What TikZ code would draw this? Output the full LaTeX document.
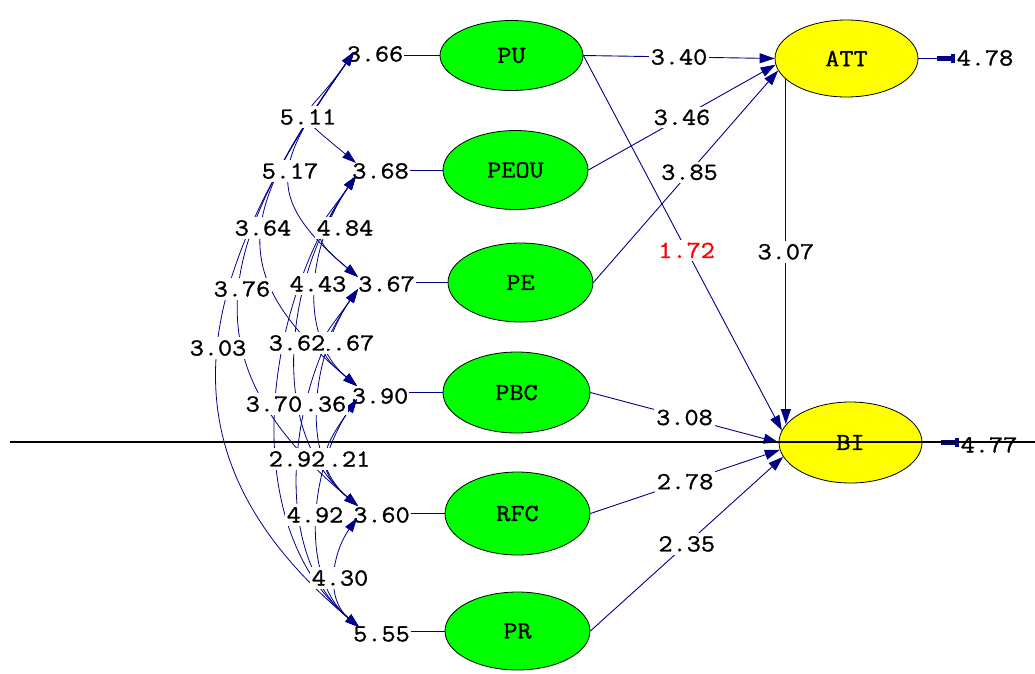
\documentclass[tikz,border=0pt]{standalone}
\usepackage{fontspec}
\usetikzlibrary{arrows.meta,shapes.geometric}
\newfontfamily\lisfont{Latin Modern Mono}[FakeStretch=1.12,FakeBold=1.2]
\definecolor{pathblue}{RGB}{0,0,136}
\definecolor{exogreen}{RGB}{0,255,0}
\definecolor{endoyellow}{RGB}{255,255,0}
\definecolor{tred}{RGB}{255,0,0}
\begin{document}
\begin{tikzpicture}[x=1pt,y=-1pt,
  txt/.style={font=\lisfont\fontsize{24.5}{26}\selectfont},
  lab/.style={txt, fill=white, inner xsep=2pt, inner ysep=3pt},
  vlab/.style={txt, inner sep=1pt},
  latent/.style={ellipse, draw=black, line width=0.8pt, txt, inner sep=0pt},
  exo/.style={latent, fill=exogreen, minimum width=145pt, minimum height=79pt},
  endo/.style={latent, fill=endoyellow, minimum width=143pt, minimum height=79pt},
  pathln/.style={draw=pathblue, line width=0.9pt, -{Triangle[length=15pt,width=10pt]}},
  stemln/.style={draw=pathblue, line width=0.9pt},
  covln/.style={draw=pathblue, line width=0.8pt,
    {Triangle[length=14pt,width=9pt]}-{Triangle[length=14pt,width=9pt]}},
  arc/.style={out=235, in=140, distance=#1},
  errln/.style={draw=pathblue, line width=0.9pt, shorten >=1pt,
    -{Rectangle[length=14pt,width=5pt]Rectangle[length=4pt,width=9pt]}},
]
\fill[white] (0,0) rectangle (1035,673);
\useasboundingbox (0,0) rectangle (1035,673);

% latent variables
\node[exo, minimum height=70pt, minimum width=143pt] (PU) at (511.5,55.5) {PU};
\node[exo] (PEOU) at (515.5,170) {PEOU};
\node[exo] (PE) at (520.5,282.5) {PE};
\node[exo, minimum height=81pt, minimum width=147pt] (PBC) at (516.5,392.5) {PBC};
\node[exo, minimum height=83pt] (RFC) at (517.5,513.5) {RFC};
\node[exo, minimum height=78pt] (PR) at (517.5,631) {PR};
\node[endo, minimum height=77pt] (ATT) at (846.5,58.5) {ATT};
\node[endo, minimum height=81pt] (BI) at (850.5,442.5) {BI};

% variances of the exogenous factors
\node[vlab] (vPU) at (375,54) {3.66};
\node[vlab] (vPEOU) at (380.5,171) {3.68};
\node[vlab] (vPE) at (386.5,284) {3.67};
\node[vlab] (vPBC) at (380,396) {3.90};
\node[vlab] (vRFC) at (381.5,515) {3.60};
\node[vlab] (vPR) at (381.5,634) {5.55};
\foreach \v in {PU,PEOU,PE,PBC,RFC,PR}
  \draw[stemln] (\v.west -| v\v.east) -- (\v.west);

% end points of the covariance arcs
\coordinate (PUb) at (354,52);
\coordinate (PEOUt) at (356,163);
\coordinate (PEOUb) at (356,176);
\coordinate (PEt) at (358,277);
\coordinate (PEb) at (358,289);
\coordinate (PBCt) at (357,386);
\coordinate (PBCb) at (357,399);
\coordinate (RFCt) at (358,506);
\coordinate (RFCb) at (357,518);
\coordinate (PRt) at (359,627);

% covariances among the exogenous factors
\draw[covln] (PUb)   to[arc=90pt]  (PEOUt);
\draw[covln] (PUb)   to[arc=131pt] (PEt);
\draw[covln] (PEOUb) to[arc=70pt]  (PEt);
\draw[covln] (PUb)   to[arc=185pt] (PBCt);
\draw[covln] (PEOUb) to[arc=80pt]  (PBCt);
\draw[covln] (PEb)   to[arc=64pt]  (PBCt);
\draw[covln] (PUb)   to[arc=231pt] (RFCt);
\draw[covln] (PEOUb) to[arc=121pt] (RFCt);
\draw[covln] (PEb)   to[arc=78pt]  (RFCt);
\draw[covln] (PBCb)  to[arc=60pt]  (RFCt);
\draw[covln] (PUb)   to[arc=275pt] (PRt);
\draw[covln] (PEOUb) to[arc=161pt] (PRt);
\draw[covln] (PEb)   to[arc=119pt] (PRt);
\draw[covln] (PBCb)  to[arc=80pt]  (PRt);
\draw[covln] (RFCb)  to[arc=44pt]  (PRt);

\node[lab] (c12) at (308,117) {5.11};
\node[lab] (c13) at (290,171) {5.17};
\node[lab] (c23) at (345,228) {4.84};
\node[lab] (c14) at (263,228) {3.64};
\node[lab] (c24) at (318,284) {4.43};
\node[lab] (c15) at (242,289) {3.76};
\node[lab] (c16) at (218,348) {3.03};
\node[lab] (c34) at (346,343) {1.67};
\node[lab] (c25) at (297,343) {3.62};
\node[lab] (c35) at (318,404) {4.36};
\node[lab] (c26) at (274,404) {3.70};
\node[lab] (c45) at (342,459) {4.21};
\node[lab] (c36) at (297,459) {2.92};
\node[lab] (c46) at (315,515) {4.92};
\node[lab] (c56) at (340,578) {4.30};

% structural paths
\draw[pathln] (PU.east) -- node[lab] {3.40} (ATT.west);
\draw[pathln] (PEOU.east) -- node[lab] {3.46} (ATT.185);
\draw[pathln] (PE.east) -- node[lab, pos=0.52] {3.85} (ATT.190);
\draw[pathln] (PU.east) -- node[lab, pos=0.52, text=tred] {1.72} (BI.170);
\draw[pathln] (ATT.199) -- node[lab] {3.07} (ATT.199 |- BI.164);
\draw[pathln] (PBC.east) -- node[lab] {3.08} (BI.west);
\draw[pathln] (RFC.east) -- node[lab] {2.78} (BI.186);
\draw[pathln] (PR.east) -- node[lab] {2.35} (BI.192);

% error terms
\node[vlab] (eATT) at (985,58) {4.78};
\node[vlab] (eBI) at (989,445) {4.77};
\draw[errln] (ATT.east) -- (ATT.east -| eATT.west);
\draw[errln] (BI.east) -- (BI.east -| eBI.west);

% horizontal rule across the figure
\coordinate (rule0) at (10,442);
\coordinate (rule1) at (1035,442);
\draw[line width=2pt] (rule0) -- (rule1);
\end{tikzpicture}
\end{document}
